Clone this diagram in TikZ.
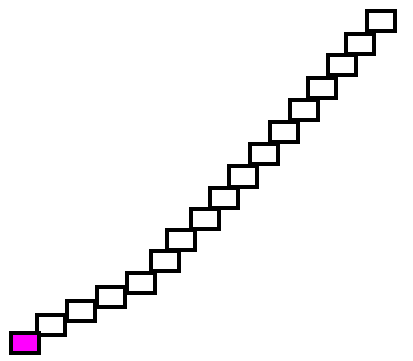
\documentclass[tikz,border=0pt]{standalone}
\usepackage{tikz}
\definecolor{startmag}{RGB}{255,0,255}

\begin{document}
\begin{tikzpicture}[
  x=1pt, y=-1pt,
  blk/.style={
    draw=black,
    line width=4pt,
    minimum width=28pt,
    minimum height=20pt,
    inner sep=0pt
  },
  startblk/.style={
    blk,
    fill=startmag
  }
]
\useasboundingbox (0,0) rectangle (413,361);
\node[blk] (blk2) at (51,325) {};
\node[blk] (blk3) at (81,311) {};
\node[blk] (blk4) at (111,297) {};
\node[blk] (blk5) at (141,283) {};
\node[blk] (blk6) at (165,260.5) {};
\node[blk] (blk7) at (181,240) {};
\node[blk] (blk8) at (205,219) {};
\node[blk] (blk9) at (224,198) {};
\node[blk] (blk10) at (243,176.5) {};
\node[blk] (blk11) at (264,154.5) {};
\node[blk] (blk12) at (284,132.5) {};
\node[blk] (blk13) at (304,110.5) {};
\node[blk] (blk14) at (322,88.5) {};
\node[blk] (blk15) at (342,65.5) {};
\node[blk] (blk16) at (360,44) {};
\node[blk] (blk17) at (381,21.5) {};
% start block on top
\node[startblk] (blk1) at (25,342.5) {};
\end{tikzpicture}
\end{document}
